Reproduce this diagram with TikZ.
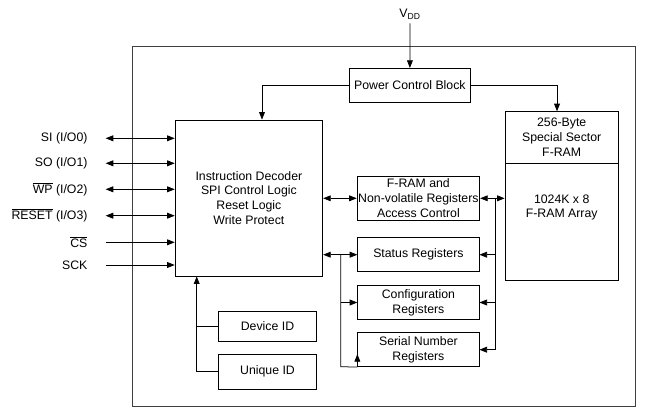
\documentclass[tikz,border=0pt]{standalone}
\usepackage{fontspec}
\setmainfont{Liberation Sans}
\usetikzlibrary{arrows.meta}

\begin{document}
\begin{tikzpicture}[x=0.3mm,y=-0.3mm,line width=0.65pt,
	font=\fontsize{10.5pt}{12.7pt}\selectfont,
	box/.style={draw,align=center,inner sep=1pt},
	sig/.style={anchor=east,inner sep=1pt},
	arr/.style={-{Triangle[length=6.5pt,width=5pt]}},
	biarr/.style={{Triangle[length=6.5pt,width=5pt]}-{Triangle[length=6.5pt,width=5pt]}}]
	\useasboundingbox (0,0) rectangle (652,418);
	% frame
	\draw[black!75] (132,46.7) rectangle (635.7,406.7);
	% power
	\node (vdd) at (410,14) {V\textsubscript{DD}};
	\node[box,minimum width=36.5mm,minimum height=10.3mm] (power) at (409.9,85.5) {Power Control Block};
	% logic
	\node[box,minimum width=44.3mm,minimum height=46.8mm] (instr) at (248.9,198) {Instruction Decoder\\SPI Control Logic\\Reset Logic\\Write Protect};
	% memory
	\node[box,minimum width=34mm,minimum height=15.5mm] (special) at (561.7,137.5) {256-Byte\\Special Sector\\F-RAM};
	\node[box,minimum width=34mm,minimum height=35mm] (array) at (561.7,221.7) {};
	\node[align=center,inner sep=1pt] (arraytxt) at (561.7,207.5) {1024K x 8\\F-RAM Array};
	% registers
	\node[box,minimum width=36.4mm,minimum height=13mm] (access) at (418.4,198.3) {F-RAM and\\Non-volatile Registers\\Access Control};
	\node[box,minimum width=36.4mm,minimum height=10.2mm] (status) at (418.4,254.7) {Status Registers};
	\node[box,minimum width=36.4mm,minimum height=10.1mm] (config) at (418.4,302.5) {Configuration\\Registers};
	\node[box,minimum width=36.4mm,minimum height=10.2mm] (serial) at (418.4,349.7) {Serial Number\\Registers};
	% IDs
	\node[box,minimum width=29.5mm,minimum height=9mm] (devid) at (267.5,326) {Device ID};
	\node[box,minimum width=29.5mm,minimum height=10.4mm] (uniq) at (267.5,371.7) {Unique ID};
	% pins
	\node[sig] (si) at (89,138.3) {SI (I/O0)};
	\node[sig] (so) at (89,163.3) {SO (I/O1)};
	\node[sig] (wp) at (89,189.3) {$\overline{\mbox{WP}}$ (I/O2)};
	\node[sig] (rst) at (89,215.7) {$\overline{\mbox{RESET}}$ (I/O3)};
	\node[sig] (cs) at (89,242.3) {$\overline{\mbox{CS}}$};
	\node[sig] (sck) at (89,265) {SCK};
	\draw[biarr] ([xshift=5mm]si.east) -- (si.east -| instr.west);
	\draw[biarr] ([xshift=5mm]so.east) -- (so.east -| instr.west);
	\draw[biarr] ([xshift=5mm]wp.east) -- (wp.east -| instr.west);
	\draw[biarr] ([xshift=5mm]rst.east) -- (rst.east -| instr.west);
	\draw[arr] ([xshift=5mm]cs.east) -- (cs.east -| instr.west);
	\draw[arr] ([xshift=5mm]sck.east) -- (sck.east -| instr.west);
	% power lines
	\coordinate (pl) at (262,85.5);
	\coordinate (pr) at (557,85.5);
	\draw[arr] (vdd.south) -- (power.north);
	\draw[arr] (power.west) -- (pl) -- (pl |- instr.north);
	\draw[arr] (power.east) -- (pr) -- (pr |- special.north);
	% left bus
	\coordinate (lbus) at (340.7,366.7);
	\draw[biarr] (instr.east |- access.west) -- (access.west);
	\draw[biarr] (instr.east |- status.west) -- (status.west);
	\draw (lbus |- status.west) -- (lbus) -- (serial.south west);
	\draw[arr] (serial.south west) -- ([yshift=3.9mm]serial.south west);
	\draw[arr] (lbus |- config.west) -- (config.west);
	% right bus
	\coordinate (rbus) at (495.7,198.3);
	\draw[biarr] (access.east) -- (access.east -| array.west);
	\draw[arr] (rbus) |- (serial.east);
	\draw[arr] (rbus |- status.east) -- (status.east);
	\draw[arr] (rbus |- config.east) -- (config.east);
	% ID lines
	\coordinate (idbus) at (196.7,371.7);
	\draw[arr] (uniq.west) -- (idbus) -- (idbus |- instr.south);
	\draw (devid.west) -- (idbus |- devid.west);
\end{tikzpicture}
\end{document}
